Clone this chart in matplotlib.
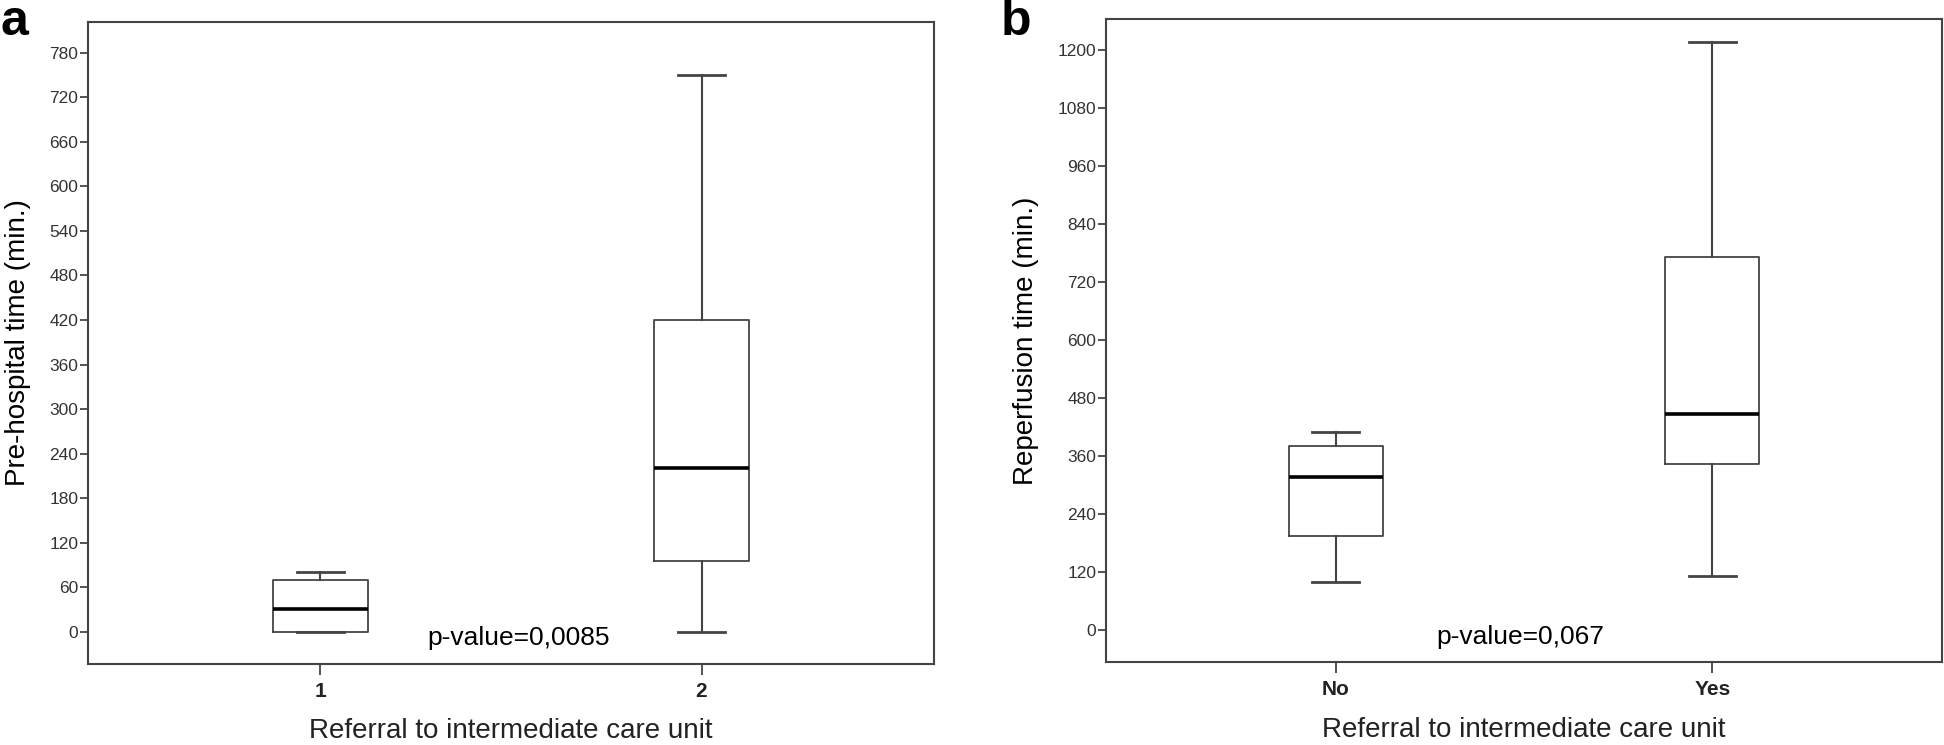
import matplotlib
matplotlib.use("Agg")
import matplotlib.pyplot as plt
from matplotlib import font_manager as fm
import numpy as np

# ---------------- data ----------------
a_labels = ["1", "2"]
a_whislo = [0, 0]
a_q1 = [0, 95]
a_med = [30, 220]
a_q3 = [70, 420]
a_whishi = [80, 750]
a_yticks = list(range(0, 781, 60))
a_ptext = "p-value=0,0085"

b_labels = ["No", "Yes"]
b_whislo = [100, 111]
b_q1 = [194, 344]
b_med = [317, 447]
b_q3 = [381, 773]
b_whishi = [411, 1217]
b_yticks = list(range(0, 1201, 120))
b_ptext = "p-value=0,067"

xlabel = "Referral to intermediate care unit"
a_ylabel = "Pre-hospital time (min.)"
b_ylabel = "Reperfusion time (min.)"

# ---------------- style ----------------
names = {f.name for f in fm.fontManager.ttflist}
base = "Liberation Sans" if "Liberation Sans" in names else "DejaVu Sans"
narrow = "Liberation Sans Narrow" if "Liberation Sans Narrow" in names else base
plt.rcParams["font.family"] = [base, "DejaVu Sans"]

EDGE = "#444444"
W, H = 1944, 745
fig = plt.figure(figsize=(W / 100, H / 100), dpi=100)

def px_axes(l, t, r, b):
    return fig.add_axes([l / W, 1 - b / H, (r - l) / W, (b - t) / H])

ax_a = px_axes(88, 22, 934, 664)
ax_b = px_axes(1106, 19, 1942, 662)

def draw(ax, labels, lo, q1, med, q3, hi, yticks, ylim, ptext, pxy, ylabel, ylab_x):
    stats = []
    for i in range(len(labels)):
        stats.append(dict(whislo=lo[i], q1=q1[i], med=med[i], q3=q3[i],
                          whishi=hi[i], fliers=[], label=labels[i]))
    pos = np.arange(1, len(labels) + 1)
    ax.bxp(stats, positions=pos, widths=0.25, capwidths=0.125,
           showfliers=False, patch_artist=False,
           boxprops=dict(color=EDGE, linewidth=1.3),
           whiskerprops=dict(color=EDGE, linewidth=1.5),
           capprops=dict(color=EDGE, linewidth=2.0),
           medianprops=dict(color="black", linewidth=2.6))
    ax.set_xlim(0.39, 2.61)
    ax.set_ylim(*ylim)
    ax.set_yticks(yticks)
    ax.set_xticks(pos)
    ax.set_xticklabels(labels, fontsize=15, fontweight="bold", color="#222222")
    for lab in ax.get_yticklabels():
        lab.set_fontfamily([narrow, "DejaVu Sans"])
        lab.set_fontsize(12.5)
        lab.set_color("#333333")
    ax.tick_params(axis="y", direction="out", length=6, width=1.3, color=EDGE, pad=1)
    ax.tick_params(axis="x", direction="out", length=8, width=1.3, color=EDGE, pad=5)
    for s in ax.spines.values():
        s.set_color(EDGE)
        s.set_linewidth(1.5)
    ax.text(pxy[0], pxy[1], ptext, fontsize=19, ha="center", va="center", color="black")
    ax.set_xlabel(xlabel, fontsize=20, color="#222222")
    ax.xaxis.label.set_va("center")
    ax.xaxis.set_label_coords(0.5, -0.105)
    ax.set_ylabel(ylabel, fontsize=20, color="black")
    ax.yaxis.label.set_va("center")
    ax.yaxis.set_label_coords(ylab_x, 0.5)

draw(ax_a, a_labels, a_whislo, a_q1, a_med, a_q3, a_whishi, a_yticks,
     (-43.6, 821.6), a_ptext, (1.52, -8.5), a_ylabel, -0.083)
draw(ax_b, b_labels, b_whislo, b_q1, b_med, b_q3, b_whishi, b_yticks,
     (-66, 1265), b_ptext, (1.49, -14.5), b_ylabel, -0.096)

fig.text(0 / W, 1 - 35 / H, "a", fontsize=36, fontweight="bold", ha="left", va="baseline")
fig.text(1001 / W, 1 - 35 / H, "b", fontsize=36, fontweight="bold", ha="left", va="baseline")

fig.savefig("out.png", dpi=100)
